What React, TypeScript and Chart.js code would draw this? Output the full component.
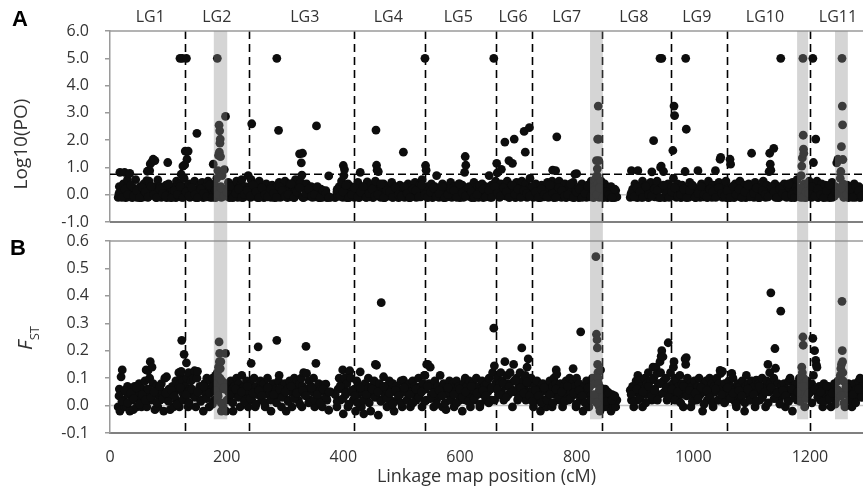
import React, { useEffect, useRef } from 'react';
import { Chart, registerables } from 'chart.js';
Chart.register(...registerables);

// Each marker: [linkage map position (cM), Log10(PO), FST]
type Marker = [number, number, number];

const LG1: Marker[] = [[14,-0.1,-0.005],[16,0.3,0.06],[17,0.82,-0.02],[19,0.1,0.105],[21,-0.05,0.13],[23,0.4,0.02],[25,0.82,-0.005],[27,-0.11,0.05],[29,0.2,-0.005],[30,0.55,0.07],[32,-0.08,0.04],[34,0.78,-0.02],[36,0.05,0.06],[38,-0.11,0.02],[40,0.25,-0.015],[42,0.0,0.07],[44,0.55,0.04],[46,-0.1,-0.005],[48,0.15,0.05],[50,-0.05,0.08],[52,0.3,0.02],[54,-0.11,-0.005],[56,0.1,0.06],[58,0.4,0.04],[60,-0.08,0.09],[62,0.2,0.13],[63,0.52,-0.005],[64,0.86,0.06],[65,-0.1,0.127],[67,0.5,0.05],[68,0.88,0.1],[69,1.13,0.16],[71,0.05,0.02],[72,1.2,0.14],[74,1.3,0.08],[76,0.3,0.05],[77,1.25,-0.015],[79,-0.11,0.04],[80,0.15,0.07],[82,0.54,-0.005],[84,0.0,0.06],[86,0.3,0.02],[88,-0.1,0.08],[90,0.2,0.05],[92,-0.05,-0.02],[94,0.1,0.1],[96,0.35,0.04],[97,-0.11,0.105],[99,1.18,0.02],[101,0.05,0.06],[103,-0.1,-0.015],[105,0.25,0.04],[107,0.0,0.07],[109,-0.08,-0.005],[111,0.3,0.05],[113,-0.11,0.09],[114,0.5,0.02],[116,0.1,0.06],[118,-0.05,0.12],[119,0.4,-0.005],[120,5.0,0.08],[121,0.2,0.11],[122,0.75,0.125],[123,-0.1,0.238],[124,5.0,0.05],[125,1.05,0.09],[126,0.3,0.04],[127,0.6,0.187],[128,1.09,0.06]];
const LG2: Marker[] = [[129,1.6,0.07],[130,0.2,0.02],[131,5.0,0.156],[132,1.3,0.1],[133,0.05,0.05],[134,1.6,-0.005],[135,0.4,0.12],[137,-0.1,0.06],[139,0.3,0.09],[141,0.1,0.04],[143,-0.05,0.1],[145,0.5,0.127],[147,-0.11,-0.005],[149,2.25,0.1],[150,0.2,0.125],[152,-0.08,0.05],[154,0.35,0.07],[156,0.0,0.02],[158,0.45,0.06],[160,-0.11,-0.02],[162,0.15,0.08],[164,0.3,0.04],[166,-0.05,0.1],[168,0.5,0.06],[170,0.1,-0.005],[172,-0.1,0.09],[174,0.25,0.05],[176,0.0,0.1],[177,1.12,0.07],[179,0.4,0.02],[181,-0.11,0.11],[183,0.6,0.08],[184,5.0,0.12],[185,0.88,0.05],[186,1.44,0.14],[187,2.55,0.232],[187.5,1.56,0.16],[188,2.34,0.19],[188.5,1.89,0.1],[189,2.04,0.135],[189.5,1.4,0.07],[190,0.3,0.16],[191,-0.1,-0.02],[192,0.7,0.09],[194,0.1,-0.005],[196,0.92,0.06],[198,2.87,0.19],[199,0.2,-0.02],[201,-0.05,0.08],[203,0.45,0.05],[205,-0.11,0.02],[207,0.2,0.09],[209,0.05,0.06],[211,0.35,-0.02],[213,-0.08,0.07],[215,0.15,0.04],[217,0.5,0.1],[219,-0.1,0.05],[221,0.25,0.08],[223,0.0,-0.005],[225,0.4,0.06],[226,0.55,0.11],[228,-0.11,0.04],[230,0.1,0.07],[232,0.3,0.02],[234,-0.05,0.09],[236,0.2,0.05],[237,0.7,-0.005]];
const LG3: Marker[] = [[239,0.3,0.05],[241,-0.1,0.08],[242,0.55,0.154],[243,2.6,0.02],[245,0.1,0.06],[247,-0.05,0.1],[249,0.4,-0.005],[251,0.0,0.07],[253,-0.11,0.04],[254,0.2,0.214],[256,0.5,0.06],[258,-0.08,0.09],[260,0.15,0.02],[262,0.3,0.05],[264,-0.11,0.08],[266,0.05,-0.005],[268,0.4,0.06],[270,-0.05,0.1],[272,0.2,0.04],[274,0.0,0.07],[276,-0.1,-0.02],[278,0.35,0.05],[280,0.1,0.08],[282,-0.11,0.02],[284,0.25,0.06],[286,5.0,0.238],[288,0.0,0.04],[289,2.36,0.09],[290,0.45,0.11],[292,-0.1,0.05],[294,0.15,-0.005],[296,0.3,0.07],[298,-0.05,0.04],[300,0.5,0.08],[302,0.05,-0.02],[304,-0.11,0.06],[306,0.2,0.02],[308,0.4,0.09],[310,-0.08,0.05],[312,0.1,-0.005],[314,0.3,0.07],[316,-0.1,0.1],[318,0.55,0.04],[319,0.2,0.06],[321,0.0,0.09],[323,0.35,0.02],[325,1.5,0.08],[327,0.45,0.05],[328,1.17,0.1],[329,0.72,-0.005],[330,1.52,0.07],[332,-0.11,0.12],[334,0.25,0.04],[336,0.1,0.216],[337,0.4,0.117],[339,-0.05,0.06],[341,0.2,0.09],[343,0.0,0.02],[345,0.3,0.07],[347,-0.1,0.05],[349,0.15,0.1],[351,-0.08,-0.005],[353,0.1,0.154],[354,2.52,0.06],[356,0.25,0.04],[358,-0.11,0.08],[360,0.05,0.02],[362,0.2,0.06],[364,-0.1,-0.005],[366,0.1,0.075],[368,-0.05,0.05],[370,0.15,0.078],[372,-0.11,0.02],[375,0.69,-0.017],[378,-0.1,0.05],[386,-0.11,0.04],[389,0.1,-0.005],[391,-0.05,0.06],[393,0.3,0.1],[395,0.0,0.02],[397,0.5,0.08],[399,-0.1,0.13],[400,1.07,-0.03],[401,0.7,0.06],[402,0.92,0.1],[404,0.2,0.04],[406,-0.11,0.08],[408,0.4,-0.005],[410,0.05,0.123],[411,-0.08,0.127],[413,0.3,0.1],[415,0.0,0.05],[417,0.2,0.02]];
const LG4: Marker[] = [[419,-0.1,0.06],[421,0.3,-0.02],[423,0.0,0.09],[425,0.45,0.04],[427,-0.11,0.07],[429,0.82,0.123],[431,0.15,-0.005],[433,-0.05,0.05],[435,0.3,-0.03],[437,0.1,0.08],[439,-0.1,0.02],[441,0.47,0.06],[443,0.2,0.1],[445,-0.08,0.04],[447,0.35,-0.02],[449,0.0,0.07],[451,-0.11,0.05],[453,0.25,0.09],[455,0.5,0.15],[456,2.37,0.04],[457,1.08,0.147],[458,0.9,0.06],[460,0.85,-0.035],[462,0.1,0.08],[464,-0.1,0.02],[465,0.3,0.375],[467,0.05,0.06],[469,0.4,0.105],[471,-0.11,0.04],[473,0.15,0.07],[475,0.3,-0.005],[477,-0.05,0.05],[479,0.2,0.09],[481,0.0,0.02],[483,0.45,0.06],[485,-0.1,0.08],[487,0.1,-0.02],[489,0.3,0.05],[491,-0.08,0.07],[493,0.2,0.02],[495,-0.11,0.06],[497,0.35,0.04],[499,0.05,0.09],[501,0.15,-0.005],[503,1.56,0.093],[505,-0.1,0.05],[507,0.25,0.07],[509,0.0,0.02],[511,0.4,0.06],[513,-0.11,0.08],[515,0.1,-0.005],[517,0.3,0.05],[519,-0.05,0.09],[521,0.2,0.04],[523,0.45,0.07],[525,-0.1,0.02],[527,0.15,0.06],[529,0.0,0.1],[531,0.35,0.04],[533,-0.08,0.07],[535,0.55,-0.005],[537,0.2,0.08],[539,0.1,0.11]];
const LG5: Marker[] = [[540,5.0,0.11],[541,1.07,0.06],[542,0.9,0.02],[543,0.3,0.15],[545,-0.1,0.15],[547,0.2,0.08],[549,0.0,0.14],[551,0.4,0.04],[553,-0.11,0.07],[555,0.15,-0.005],[557,0.3,0.09],[559,-0.05,0.05],[560,0.7,0.02],[562,0.1,0.07],[564,-0.1,0.04],[566,0.25,0.11],[568,0.0,0.06],[570,0.4,-0.005],[572,-0.11,0.08],[574,0.15,0.05],[576,0.3,-0.015],[578,-0.08,0.07],[580,0.2,0.04],[582,0.05,0.09],[584,0.45,0.02],[586,-0.1,0.06],[588,0.1,0.08],[590,0.3,-0.005],[592,-0.05,0.05],[594,0.2,0.09],[596,0.0,0.04],[598,0.4,0.07],[600,-0.11,0.02],[602,0.15,0.06],[604,0.35,-0.02],[606,-0.1,0.08],[608,0.82,0.05],[609,1.4,0.1],[610,1.08,0.02],[612,0.2,0.07],[614,-0.05,0.04],[616,0.3,0.09],[618,0.05,-0.005],[620,-0.11,0.06],[622,0.25,0.08],[624,0.45,0.02],[626,-0.08,0.05],[628,0.1,0.1],[630,0.3,0.04],[632,-0.1,0.07],[634,0.2,-0.005],[636,0.0,0.06],[638,0.4,0.09],[640,-0.11,0.04],[642,0.15,0.07],[644,0.3,0.02],[646,-0.05,0.08],[648,0.1,0.05],[650,0.7,0.1],[652,-0.1,0.06],[654,0.35,0.02],[656,0.2,0.12],[658,5.0,0.282],[659,0.1,0.145],[661,0.5,0.08]];
const LG6: Marker[] = [[663,1.15,0.06],[664,0.8,0.1],[666,0.2,0.04],[668,-0.1,0.08],[670,0.4,0.12],[671,0.93,0.05],[673,0.1,0.09],[675,0.3,0.02],[677,1.93,0.16],[679,-0.05,0.07],[681,0.5,0.11],[683,0.15,0.04],[684,1.25,0.08],[686,0.0,0.12],[688,0.35,0.06],[690,1.15,-0.005],[692,0.2,0.15],[693,2.04,0.09],[695,-0.11,0.05],[697,0.45,0.1],[699,0.1,0.02],[701,0.3,0.07],[703,-0.08,0.12],[705,0.25,0.04],[706,0.5,0.21],[708,0.05,0.09],[710,2.32,0.06],[712,1.56,0.11],[713,0.4,0.02],[715,-0.1,0.14],[717,0.2,0.17],[719,2.46,0.08],[720,0.6,0.05],[722,0.1,0.1]];
const LG7: Marker[] = [[724,0.3,0.05],[726,-0.1,-0.005],[728,0.15,0.07],[730,0.4,0.04],[732,-0.05,0.09],[734,0.2,0.02],[736,0.0,0.06],[738,-0.11,-0.02],[740,0.35,0.05],[742,0.1,0.08],[744,-0.08,0.02],[746,0.25,0.06],[748,0.05,-0.005],[750,0.45,0.07],[752,-0.1,0.04],[754,0.2,0.09],[756,0.0,0.05],[758,0.5,-0.005],[759,0.9,0.07],[761,-0.11,0.1],[763,0.3,0.04],[764,0.88,0.08],[765,0.1,0.13],[766,2.12,0.115],[768,-0.05,0.06],[770,0.5,0.02],[772,0.15,0.08],[774,-0.1,0.05],[776,0.3,-0.005],[778,0.0,0.07],[780,0.4,0.04],[782,-0.11,0.09],[784,0.2,0.06],[786,0.05,0.02],[788,0.35,0.1],[790,-0.08,0.05],[792,0.15,0.08],[794,0.45,0.135],[796,-0.1,0.04],[797,0.75,0.07],[799,0.2,-0.005],[800,0.77,0.1],[802,0.0,0.05],[804,-0.11,0.08],[806,0.3,0.02],[807,0.1,0.269],[809,0.4,0.06],[811,-0.05,-0.02],[813,0.2,0.07],[815,0.05,0.04],[817,-0.1,0.09],[819,0.35,0.05],[821,0.15,-0.005],[823,-0.08,0.07],[825,0.5,0.04],[827,0.1,0.1],[829,-0.11,0.02],[831,0.3,0.08],[833,0.6,0.543],[834,1.25,0.26],[835,0.7,0.24],[835.5,0.95,0.21],[836,2.04,0.15],[836.5,0.4,0.12],[837,3.25,0.1],[837.5,2.04,0.08],[838,1.25,0.05],[838.5,0.2,0.02],[839,-0.1,-0.005],[840,0.3,-0.02],[841,0.0,0.13],[842,0.5,0.06]];
const LG8: Marker[] = [[844,0.2,0.04],[846,-0.1,0.06],[848,0.4,-0.005],[849,0.0,0.06],[851,0.25,0.02],[853,-0.11,0.05],[855,0.1,-0.005],[857,-0.05,0.038],[859,0.3,-0.02],[861,-0.1,0.04],[863,0.05,-0.005],[865,-0.11,0.02],[867,0.15,-0.005],[869,-0.08,0.02],[892,-0.1,0.056],[894,0.88,0.02],[896,0.2,0.07],[898,-0.05,-0.005],[900,0.4,0.05],[902,0.0,0.09],[904,-0.11,0.02],[905,0.88,0.11],[907,0.3,0.09],[909,0.1,0.04],[911,-0.1,0.07],[913,0.5,-0.005],[915,0.15,0.06],[917,-0.05,0.1],[919,0.35,0.04],[921,0.0,0.08],[923,-0.11,0.12],[925,0.25,0.05],[927,0.45,0.09],[929,0.84,0.02],[931,0.1,0.14],[932,1.98,0.1],[934,-0.08,0.06],[936,0.3,0.14],[938,0.5,0.117],[940,-0.1,0.08],[941,0.2,0.04],[943,5.0,0.16],[944,1.0,0.12],[945,1.05,0.18],[946,5.0,0.2],[948,0.2,0.178],[949,0.85,0.09],[951,-0.11,0.05],[953,0.35,0.1],[955,0.0,0.02],[957,0.4,0.229],[959,0.15,0.07],[961,-0.05,0.12]];
const LG9: Marker[] = [[963,0.3,0.04],[965,1.62,0.08],[966,0.6,0.14],[967,3.25,0.16],[968,2.9,0.1],[969,0.1,0.05],[971,-0.1,0.09],[973,0.4,0.02],[975,0.0,0.07],[977,0.2,0.11],[979,-0.11,0.04],[981,0.35,0.08],[983,0.05,-0.005],[985,-0.08,0.06],[986,0.85,0.17],[987,5.0,0.15],[988,2.4,0.175],[990,0.2,0.1],[992,-0.1,0.05],[994,0.45,0.08],[996,0.1,-0.005],[998,-0.05,0.07],[1000,0.3,0.04],[1002,0.0,0.09],[1004,-0.11,0.05],[1006,0.2,0.02],[1008,0.88,0.07],[1010,0.15,0.1],[1012,-0.1,0.04],[1014,0.4,0.06],[1016,0.05,-0.02],[1018,-0.08,0.08],[1020,0.3,0.05],[1022,0.1,0.09],[1024,-0.11,0.02],[1026,0.5,0.06],[1028,0.2,0.1],[1030,0.0,0.04],[1032,-0.1,0.08],[1034,0.35,-0.005],[1036,0.15,0.07],[1038,0.88,0.05],[1040,-0.05,0.1],[1042,0.25,0.02],[1044,0.45,0.08],[1046,1.3,0.128],[1047,1.37,0.117],[1049,0.1,0.06],[1050,-0.1,0.125],[1052,0.3,0.04],[1054,0.0,0.08],[1056,0.5,0.02],[1057,-0.11,0.06]];
const LG10: Marker[] = [[1059,0.2,0.05],[1061,-0.1,0.09],[1063,1.3,0.04],[1064,1.12,0.07],[1066,0.3,0.117],[1068,0.0,0.1],[1070,-0.11,0.02],[1072,0.4,0.06],[1074,0.1,-0.005],[1076,-0.05,0.08],[1078,0.25,0.04],[1080,0.5,0.07],[1082,-0.1,0.02],[1084,0.15,0.09],[1086,0.0,0.05],[1088,0.35,-0.02],[1090,-0.11,0.07],[1091,0.2,0.11],[1093,0.05,0.04],[1095,0.4,0.08],[1097,-0.08,0.02],[1099,0.3,0.06],[1100,1.52,0.09],[1102,0.1,0.04],[1104,-0.1,0.07],[1106,0.45,-0.005],[1108,0.2,0.093],[1110,0.0,0.05],[1112,-0.11,0.08],[1114,0.3,0.02],[1116,0.1,0.06],[1118,-0.05,0.1],[1120,0.5,0.04],[1122,0.15,0.07],[1124,-0.1,-0.005],[1126,0.35,0.09],[1128,0.0,0.15],[1130,0.85,0.05],[1131,1.52,0.12],[1132,1.12,0.08],[1133,0.9,0.411],[1135,0.2,0.06],[1138,1.7,0.1],[1140,0.4,0.208],[1141,-0.1,0.136],[1143,0.25,0.04],[1145,0.05,0.08],[1147,-0.11,0.02],[1149,0.3,0.06],[1150,5.0,0.344],[1152,0.1,0.075],[1154,-0.05,0.04],[1156,0.4,0.08],[1158,0.15,-0.005],[1160,-0.1,0.06],[1162,0.3,0.02],[1164,0.0,0.09],[1166,0.2,0.1],[1168,-0.11,0.05],[1170,0.45,-0.02],[1172,0.1,0.07],[1174,-0.08,0.04],[1176,0.3,0.08],[1178,0.55,0.02],[1180,0.0,0.06],[1182,0.2,0.1],[1184,-0.1,0.04],[1185,0.7,0.07],[1186,1.05,0.14],[1187,1.35,0.12],[1188,5.0,0.25],[1188.5,2.18,0.22],[1189,1.67,0.1],[1189.5,1.52,0.08],[1190,0.4,0.05],[1191,0.1,-0.005],[1193,-0.11,0.06],[1195,0.3,0.09],[1197,0.0,0.04],[1199,0.5,0.07]];
const LG11: Marker[] = [[1201,0.2,0.05],[1203,-0.1,0.08],[1205,5.0,0.245],[1206,1.18,0.11],[1208,0.3,0.2],[1210,2.04,0.165],[1211,0.1,0.148],[1212,0.5,0.14],[1214,-0.11,0.04],[1216,0.25,0.07],[1218,0.0,0.02],[1220,0.4,0.06],[1222,-0.08,-0.005],[1224,0.15,0.08],[1226,0.35,0.04],[1228,-0.1,0.06],[1230,0.05,0.02],[1232,0.3,0.07],[1234,-0.11,0.05],[1236,0.2,-0.005],[1238,0.45,0.06],[1240,0.0,0.04],[1242,-0.05,0.08],[1244,0.3,0.02],[1246,1.17,0.06],[1248,1.3,0.09],[1250,0.1,0.04],[1252,0.6,0.11],[1253,0.85,0.135],[1254,1.76,0.15],[1255,5.0,0.38],[1255.5,3.25,0.2],[1256,2.56,0.16],[1256.5,1.29,0.12],[1257,0.4,0.09],[1258,-0.1,0.05],[1260,0.2,-0.005],[1262,0.0,0.07],[1264,0.35,0.04],[1266,-0.11,0.08],[1268,0.15,0.02],[1270,0.3,0.06],[1272,-0.08,-0.005],[1274,0.1,0.05],[1276,0.4,0.08],[1278,-0.1,0.02],[1280,0.2,0.06],[1282,0.0,0.04],[1284,0.3,0.09],[1286,-0.11,0.1],[1288,0.15,0.05],[1290,0.05,0.07]];
// further markers of the dense background band, all linkage groups
const BAND_MARKERS: Marker[] = [[15.5,0.05,0.035],[20.5,-0.1,0.015],[25.5,0.2,0.055],[30.5,0.0,0.01],[35.5,0.35,0.045],[40.5,-0.05,0.025],[45.5,0.15,0.065],[50.5,-0.11,0.005],[55.5,0.25,0.04],[60.5,0.1,0.02],[65.5,-0.08,0.06],[70.5,0.3,0.03],[75.5,0.0,0.05],[80.5,-0.1,0.01],[85.5,0.2,0.07],[90.5,0.05,0.025],[95.5,-0.05,0.045],[100.5,0.4,0.015],[105.5,-0.11,0.055],[110.5,0.15,0.035],[115.5,0.0,0.005],[120.5,0.3,0.065],[125.5,-0.1,0.02],
[130.5,0.1,0.04],[135.5,-0.05,0.01],[140.5,0.25,0.06],[145.5,0.0,0.03],[150.5,-0.11,0.05],[155.5,0.2,0.015],[160.5,0.05,0.07],[165.5,-0.08,0.025],[170.5,0.35,0.045],[175.5,-0.1,0.005],[180.5,0.15,0.055],[185.5,0.0,0.035],[190.5,0.25,0.01],[195.5,-0.05,0.065],[200.5,0.1,0.02],[205.5,0.3,0.04],[210.5,-0.11,0.01],[215.5,0.05,0.06],[220.5,0.2,0.03],[225.5,-0.1,0.05],[230.5,0.0,0.015],[235.5,0.15,0.07],
[240.5,-0.05,0.025],[245.5,0.35,0.045],[250.5,0.1,0.005],[255.5,-0.11,0.055],[260.5,0.25,0.035],[265.5,0.0,0.01],[270.5,-0.08,0.065],[275.5,0.2,0.02],[280.5,0.05,0.04],[285.5,-0.1,0.01],[290.5,0.3,0.06],[295.5,0.15,0.03],[300.5,-0.05,0.05],[305.5,0.0,0.015],[310.5,0.4,0.07],[315.5,-0.11,0.025],[320.5,0.1,0.045],[325.5,0.25,0.005],[330.5,-0.1,0.055],[335.5,0.05,0.035],[340.5,0.2,0.01],[345.5,-0.05,0.065],[350.5,0.0,0.02],[355.5,0.3,0.04],[360.5,-0.11,0.01],[365.5,0.15,0.06],[370.5,0.05,0.03],[375.5,-0.1,0.05],[389.5,0.2,0.015],[394.5,-0.05,0.07],[399.5,0.1,0.025],[404.5,0.35,0.045],[409.5,-0.11,0.005],[414.5,0.0,0.055],
[419.5,0.25,0.035],[424.5,-0.08,0.01],[429.5,0.1,0.065],[434.5,0.3,0.02],[439.5,-0.1,0.04],[444.5,0.05,0.01],[449.5,0.2,0.06],[454.5,-0.05,0.03],[459.5,0.0,0.05],[464.5,0.4,0.015],[469.5,-0.11,0.07],[474.5,0.15,0.025],[479.5,0.1,0.045],[484.5,-0.1,0.005],[489.5,0.25,0.055],[494.5,0.0,0.035],[499.5,-0.05,0.01],[504.5,0.3,0.065],[509.5,0.05,0.02],[514.5,-0.11,0.04],[519.5,0.2,0.01],[524.5,0.15,0.06],[529.5,-0.08,0.03],[534.5,0.35,0.05],[539.5,0.0,0.015],
[544.5,-0.1,0.07],[549.5,0.1,0.025],[554.5,0.25,0.045],[559.5,-0.05,0.005],[564.5,0.05,0.055],[569.5,0.3,0.035],[574.5,-0.11,0.01],[579.5,0.0,0.065],[584.5,0.2,0.02],[589.5,0.15,0.04],[594.5,-0.1,0.01],[599.5,0.4,0.06],[604.5,0.05,0.03],[609.5,-0.05,0.05],[614.5,0.25,0.015],[619.5,0.1,0.07],[624.5,-0.11,0.025],[629.5,0.0,0.045],[634.5,0.35,0.005],[639.5,0.2,0.055],[644.5,-0.08,0.035],[649.5,0.15,0.01],[654.5,-0.1,0.065],[659.5,0.3,0.02],
[664.5,0.05,0.06],[669.5,-0.05,0.04],[674.5,0.25,0.08],[679.5,0.1,0.03],[684.5,-0.11,0.07],[689.5,0.35,0.05],[694.5,0.0,0.09],[699.5,0.2,0.025],[704.5,-0.1,0.065],[709.5,0.15,0.045],[714.5,0.05,0.085],[719.5,-0.05,0.035],
[724.5,0.3,0.015],[729.5,0.1,0.055],[734.5,-0.11,0.035],[739.5,0.2,0.01],[744.5,0.0,0.065],[749.5,-0.08,0.02],[754.5,0.35,0.04],[759.5,0.05,0.01],[764.5,-0.1,0.06],[769.5,0.25,0.03],[774.5,0.15,0.05],[779.5,-0.05,0.015],[784.5,0.0,0.07],[789.5,0.4,0.025],[794.5,-0.11,0.045],[799.5,0.1,0.005],[804.5,0.2,0.055],[809.5,-0.1,0.035],[814.5,0.05,0.01],[819.5,0.3,0.065],[824.5,-0.05,0.02],[829.5,0.15,0.04],[834.5,0.0,0.01],[839.5,0.25,0.06],
[845.5,-0.1,0.03],[850.5,0.1,0.015],[855.5,0.0,0.045],[860.5,-0.11,0.02],[865.5,0.2,0.035],[893.5,0.05,0.04],[898.5,-0.08,0.015],[903.5,0.25,0.06],[908.5,0.1,0.025],[913.5,-0.1,0.05],[918.5,0.3,0.01],[923.5,0.0,0.07],[928.5,-0.05,0.035],[933.5,0.2,0.055],[938.5,0.15,0.02],[943.5,-0.11,0.08],[948.5,0.35,0.045],[953.5,0.05,0.065],[958.5,-0.1,0.03],
[963.5,0.1,0.06],[968.5,0.25,0.02],[973.5,-0.05,0.05],[978.5,0.0,0.01],[983.5,0.2,0.07],[988.5,-0.11,0.035],[993.5,0.15,0.055],[998.5,0.35,0.015],[1003.5,-0.1,0.045],[1008.5,0.05,0.025],[1013.5,0.3,0.065],[1018.5,0.0,0.005],[1023.5,-0.08,0.055],[1028.5,0.2,0.03],[1033.5,0.1,0.01],[1038.5,-0.1,0.06],[1043.5,0.25,0.02],[1048.5,0.05,0.04],[1053.5,-0.05,0.01],
[1058.5,0.15,0.065],[1063.5,-0.11,0.025],[1068.5,0.3,0.045],[1073.5,0.0,0.005],[1078.5,0.2,0.055],[1083.5,-0.1,0.035],[1088.5,0.1,0.01],[1093.5,0.35,0.06],[1098.5,-0.05,0.02],[1103.5,0.05,0.04],[1108.5,0.25,0.015],[1113.5,-0.11,0.07],[1118.5,0.15,0.03],[1123.5,0.0,0.05],[1128.5,-0.08,0.01],[1133.5,0.3,0.065],[1138.5,0.1,0.025],[1143.5,-0.1,0.045],[1148.5,0.2,0.005],[1153.5,0.05,0.055],[1158.5,-0.05,0.035],[1163.5,0.4,0.015],[1168.5,0.0,0.06],[1173.5,-0.11,0.03],[1178.5,0.15,0.05],[1183.5,0.25,0.015],[1188.5,-0.1,0.07],[1193.5,0.1,0.025],[1198.5,0.05,0.045],
[1203.5,0.3,0.01],[1208.5,-0.05,0.06],[1213.5,0.2,0.03],[1218.5,0.0,0.05],[1223.5,-0.11,0.015],[1228.5,0.15,0.07],[1233.5,0.35,0.025],[1238.5,-0.1,0.045],[1243.5,0.1,0.005],[1248.5,0.05,0.055],[1253.5,0.25,0.035],[1258.5,-0.08,0.01],[1263.5,0.0,0.065],[1268.5,0.2,0.02],[1273.5,-0.1,0.04],[1278.5,0.3,0.01],[1283.5,0.15,0.06],[1288.5,-0.05,0.03]];

const MARKERS: Marker[] = [...LG1, ...LG2, ...LG3, ...LG4, ...LG5, ...LG6, ...LG7, ...LG8, ...LG9, ...LG10, ...LG11, ...BAND_MARKERS];

const LG_NAMES = ['LG1', 'LG2', 'LG3', 'LG4', 'LG5', 'LG6', 'LG7', 'LG8', 'LG9', 'LG10', 'LG11'];
const LG_LABEL_CM = [69, 183, 334, 477, 597, 691, 783, 898, 1006, 1123, 1248];
const LG_BOUNDARIES_CM = [128.6, 238.3, 418.3, 540, 661.8, 723.5, 843.5, 961.8, 1057.8, 1200];
const HIGHLIGHT_BANDS_CM: [number, number][] = [[178, 201], [823, 845], [1178, 1197], [1243, 1265]];
const PO_THRESHOLD = 0.75;
const X_MIN = 0;
const X_MAX = 1291;
const X_STEP = 200;
const PO_MIN = -1, PO_MAX = 6, PO_STEP = 1;
const FST_MIN = -0.1, FST_MAX = 0.6, FST_STEP = 0.1;
const BAND_FST_BOTTOM = -0.05;

const FONT = '"Open Sans", "DejaVu Sans", sans-serif';
const TEXT = '#333333';
const AXIS_GRAY = '#9a9a9a';

function line(ctx: CanvasRenderingContext2D, x1: number, y1: number, x2: number, y2: number) {
  ctx.beginPath();
  ctx.moveTo(x1, y1);
  ctx.lineTo(x2, y2);
  ctx.stroke();
}

function makeOverlay(panel: 'A' | 'B') {
  return {
    id: 'overlay' + panel,
    beforeDatasetsDraw(chart: any) {
      const { ctx, chartArea: ca, scales } = chart;
      const x = scales.x, y = scales.y;
      ctx.save();
      ctx.strokeStyle = '#c4c4c4';
      ctx.lineWidth = 1.5;
      const y0 = y.getPixelForValue(0);
      line(ctx, ca.left, y0, ca.right, y0);
      if (panel === 'A') {
        ctx.strokeStyle = '#000';
        ctx.lineWidth = 1.5;
        ctx.setLineDash([8, 4]);
        const yt = y.getPixelForValue(PO_THRESHOLD);
        line(ctx, ca.left, yt, ca.right, yt);
      }
      ctx.strokeStyle = '#000';
      ctx.lineWidth = 1.6;
      ctx.setLineDash([8, 5]);
      for (const b of LG_BOUNDARIES_CM) {
        const px = Math.round(x.getPixelForValue(b)) + 0.5;
        line(ctx, px, ca.top, px, ca.bottom);
      }
      ctx.setLineDash([]);
      ctx.strokeStyle = AXIS_GRAY;
      ctx.lineWidth = 1.5;
      line(ctx, ca.left, ca.top, ca.right, ca.top);
      if (panel === 'A') {
        ctx.strokeStyle = '#808080';
        ctx.lineWidth = 2;
        line(ctx, ca.left, ca.bottom, ca.right, ca.bottom);
      }
      ctx.restore();
    },
    afterDatasetsDraw(chart: any) {
      const { ctx, chartArea: ca, scales } = chart;
      const x = scales.x, y = scales.y;
      ctx.save();
      ctx.fillStyle = 'rgba(140,140,140,0.37)';
      for (const [a, b] of HIGHLIGHT_BANDS_CM) {
        const x1 = x.getPixelForValue(a), x2 = x.getPixelForValue(b);
        if (panel === 'A') ctx.fillRect(x1, ca.top, x2 - x1, chart.height - ca.top);
        else ctx.fillRect(x1, 0, x2 - x1, y.getPixelForValue(BAND_FST_BOTTOM));
      }
      ctx.restore();
    },
    afterDraw(chart: any) {
      const { ctx, scales } = chart;
      const x = scales.x;
      ctx.save();
      ctx.fillStyle = '#000';
      ctx.font = 'bold 22px "Liberation Sans", Arial, sans-serif';
      ctx.textAlign = 'center';
      ctx.textBaseline = 'middle';
      if (panel === 'A') ctx.fillText('A', 20, 20);
      else ctx.fillText('B', 18, 17);

      ctx.fillStyle = TEXT;
      if (panel === 'A') {
        ctx.font = '16px ' + FONT;
        ctx.textAlign = 'center';
        ctx.textBaseline = 'middle';
        LG_NAMES.forEach((n, i) => ctx.fillText(n, x.getPixelForValue(LG_LABEL_CM[i]), 17));
        ctx.save();
        ctx.translate(27, 144);
        ctx.rotate(-Math.PI / 2);
        ctx.font = '19px ' + FONT;
        ctx.textAlign = 'center';
        ctx.textBaseline = 'alphabetic';
        ctx.fillText('Log10(PO)', 0, 0);
        ctx.restore();
      } else {
        ctx.save();
        ctx.translate(32, 106);
        ctx.rotate(-Math.PI / 2);
        ctx.textAlign = 'left';
        ctx.textBaseline = 'alphabetic';
        ctx.font = 'italic 20px ' + FONT;
        const wF = ctx.measureText('F').width;
        ctx.font = '13px ' + FONT;
        const wS = ctx.measureText('ST').width;
        const start = -(wF + wS) / 2;
        ctx.font = 'italic 20px ' + FONT;
        ctx.fillText('F', start, 0);
        ctx.font = '13px ' + FONT;
        ctx.fillText('ST', start + wF, 7);
        ctx.restore();
      }
      ctx.restore();
    },
  };
}

function yAxis(min: number, max: number, step: number) {
  return {
    type: 'linear',
    min,
    max,
    afterFit: (s: any) => { s.width = 110; s.paddingTop = 0; s.paddingBottom = 0; },
    ticks: {
      stepSize: step,
      color: TEXT,
      padding: 16,
      font: { family: FONT, size: 16 },
      callback: (v: any) => (Math.abs(Number(v)) < 1e-9 ? 0 : Number(v)).toFixed(1),
    },
    grid: { drawOnChartArea: false, drawTicks: true, tickLength: 5, color: AXIS_GRAY, lineWidth: 1.5 },
    border: { display: true, color: AXIS_GRAY, width: 1.5 },
  };
}

function dataset(valueIndex: 1 | 2) {
  return {
    data: MARKERS.map((m) => ({ x: m[0], y: m[valueIndex] })),
    backgroundColor: '#0d0d0d',
    borderWidth: 0,
    pointRadius: 4.4,
    pointHoverRadius: 4.4,
  };
}

export default function App() {
  const refA = useRef<HTMLCanvasElement>(null);
  const refB = useRef<HTMLCanvasElement>(null);

  useEffect(() => {
    const common = {
      responsive: false,
      maintainAspectRatio: false,
      animation: false,
      devicePixelRatio: 1,
      events: [],
      plugins: { legend: { display: false }, tooltip: { enabled: false } },
    };
    const chartA = new Chart(refA.current as HTMLCanvasElement, {
      type: 'scatter',
      data: { datasets: [dataset(1)] },
      options: {
        ...common,
        layout: { autoPadding: false, padding: { left: 0, right: 0, top: 31, bottom: 10 } },
        scales: {
          x: { type: 'linear', min: X_MIN, max: X_MAX, display: false },
          y: yAxis(PO_MIN, PO_MAX, PO_STEP),
        },
      } as any,
      plugins: [makeOverlay('A')],
    } as any);
    const chartB = new Chart(refB.current as HTMLCanvasElement, {
      type: 'scatter',
      data: { datasets: [dataset(2)] },
      options: {
        ...common,
        layout: { autoPadding: false, padding: { left: 0, right: 0, top: 9, bottom: 0 } },
        scales: {
          x: {
            type: 'linear',
            min: X_MIN,
            max: X_MAX,
            afterFit: (s: any) => { s.height = 57; s.paddingLeft = 0; s.paddingRight = 0; },
            ticks: {
              stepSize: X_STEP,
              includeBounds: false,
              color: TEXT,
              padding: 15,
              maxRotation: 0,
              font: { family: FONT, size: 16 },
              callback: (v: any) => String(v),
            },
            grid: { display: false, drawTicks: false },
            border: { display: true, color: '#808080', width: 2 },
            title: {
              display: true,
              text: 'Linkage map position (cM)',
              color: TEXT,
              font: { family: FONT, size: 18 },
              padding: { top: 0, bottom: 2 },
            },
          },
          y: yAxis(FST_MIN, FST_MAX, FST_STEP),
        },
      } as any,
      plugins: [makeOverlay('B')],
    } as any);
    return () => {
      chartA.destroy();
      chartB.destroy();
    };
  }, []);

  return (
    <div style={{ position: 'fixed', left: 0, top: 0, width: 863, height: 490, background: '#fff' }}>
      <canvas ref={refA} width={863} height={232} style={{ position: 'absolute', left: 0, top: 0, width: 863, height: 232, display: 'block' }} />
      <canvas ref={refB} width={863} height={258} style={{ position: 'absolute', left: 0, top: 232, width: 863, height: 258, display: 'block' }} />
    </div>
  );
}
